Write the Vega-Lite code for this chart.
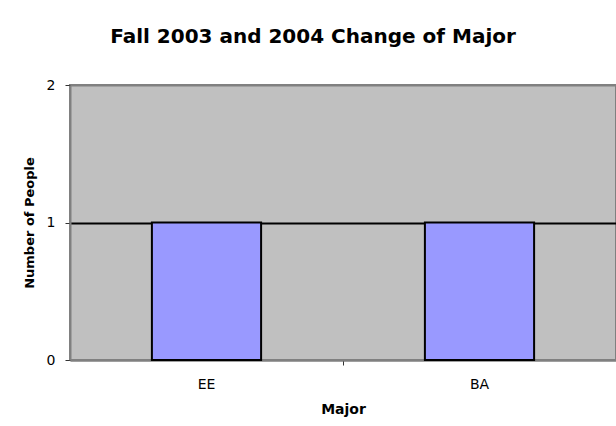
{
  "$schema": "https://vega.github.io/schema/vega-lite/v6.json",
  "autosize": "none",
  "padding": {"left": 70, "top": 85, "right": 0, "bottom": 66},
  "width": 546,
  "height": 275,
  "background": "white",
  "title": {
    "text": "Fall 2003 and 2004 Change of Major",
    "font": "DejaVu Sans",
    "fontSize": 20,
    "fontWeight": "bold",
    "color": "black",
    "anchor": "middle",
    "dx": -30,
    "offset": 31
  },
  "data": {
    "values": [
      {"Major": "EE", "People": 1},
      {"Major": "BA", "People": 1}
    ]
  },
  "mark": {"type": "bar", "color": "#9999FF", "stroke": "black", "strokeWidth": 2},
  "encoding": {
    "x": {
      "field": "Major",
      "type": "nominal",
      "sort": null,
      "title": "Major",
      "scale": {"paddingInner": 0.6, "paddingOuter": 0.3},
      "axis": {
        "labelAngle": 0,
        "bandPosition": 1.75,
        "labelPadding": 12,
        "tickSize": 5,
        "titlePadding": 11,
        "titleFontSize": 14
      }
    },
    "y": {
      "field": "People",
      "type": "quantitative",
      "title": "Number of People",
      "scale": {"domain": [0, 2], "nice": false},
      "axis": {
        "tickCount": 2,
        "tickMinStep": 1,
        "format": "d",
        "tickSize": 5,
        "labelPadding": 10,
        "titlePadding": 10,
        "titleFontSize": 13,
        "grid": true,
        "gridColor": {"condition": {"test": "datum.value == 1", "value": "black"}, "value": "#808080"},
        "gridWidth": 2,
        "gridOpacity": 1
      }
    }
  },
  "config": {
    "font": "DejaVu Sans",
    "view": {"fill": "#C0C0C0", "stroke": "#808080", "strokeWidth": 2},
    "axis": {
      "domainColor": "#808080",
      "domainWidth": 2,
      "tickColor": "#333333",
      "labelFont": "DejaVu Sans",
      "labelFontSize": 14,
      "labelColor": "black",
      "titleFont": "DejaVu Sans",
      "titleFontWeight": "bold",
      "titleColor": "black"
    }
  }
}
